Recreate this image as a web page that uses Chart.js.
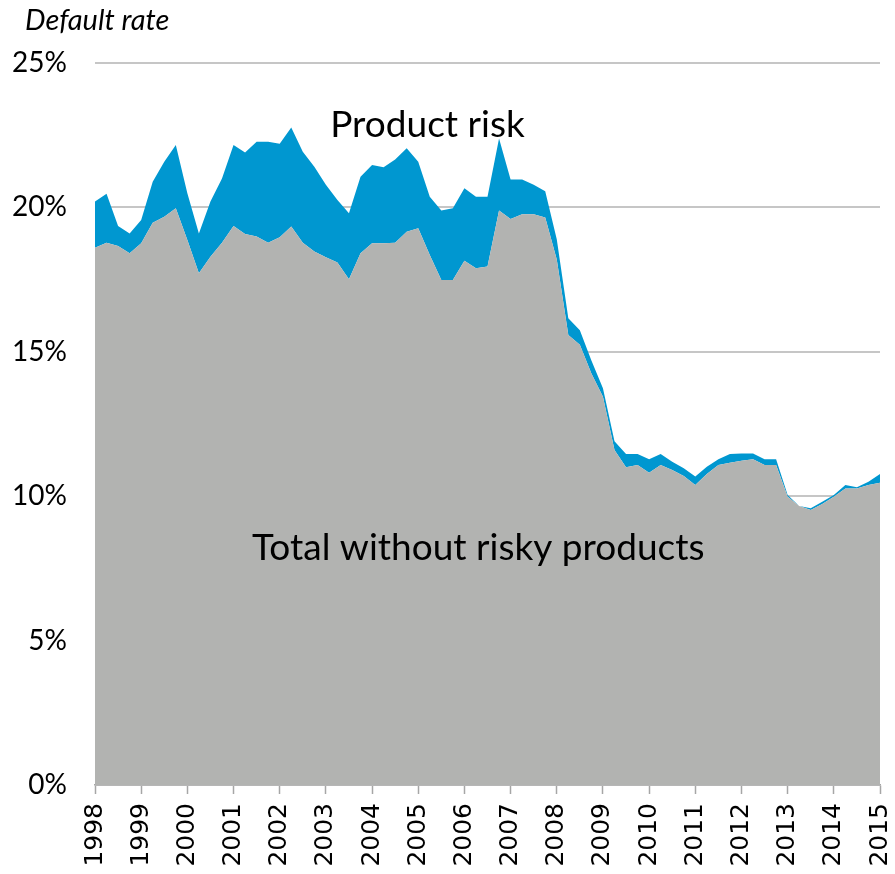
<!DOCTYPE html>
<html>
<head>
<meta charset="utf-8">
<script src="https://cdn.jsdelivr.net/npm/chart.js@4.4.1/dist/chart.umd.min.js"></script>
<style>
  html, body { margin: 0; padding: 0; background: #fff; }
  #wrap { width: 895px; height: 874px; }
</style>
</head>
<body>
<div id="wrap"><canvas id="defaultChart"></canvas></div>
<script>
// quarterly observations, 1998 Q1 .. 2015 Q1
var quarters = [];
for (var y = 1998; y <= 2015; y++) {
  for (var q = 1; q <= 4; q++) {
    if (y === 2015 && q > 1) break;
    quarters.push(y + ' Q' + q);
  }
}

// default rate without the risky products (grey area), %
var withoutRisky = [
  18.6, 18.78, 18.66, 18.41,
  18.76, 19.47, 19.68, 19.97,
  18.87, 17.72, 18.29, 18.78,
  19.36, 19.08, 18.99, 18.78,
  18.97, 19.34, 18.78, 18.47,
  18.27, 18.09, 17.51, 18.41,
  18.76, 18.76, 18.78, 19.16,
  19.28, 18.35, 17.49, 17.49,
  18.15, 17.89, 17.95, 19.89,
  19.6, 19.76, 19.76, 19.65,
  18.2, 15.58, 15.24, 14.25,
  13.44, 11.6, 11.0, 11.08,
  10.81, 11.08, 10.91, 10.7,
  10.39, 10.77, 11.08, 11.16,
  11.23, 11.28, 11.08, 11.08,
  9.98, 9.66, 9.52, 9.73,
  9.98, 10.27, 10.27, 10.39,
  10.47
];

// total default rate incl. product risk (top of blue band), %
var totalRate = [
  20.2, 20.47, 19.36, 19.1,
  19.56, 20.89, 21.58, 22.16,
  20.49, 19.1, 20.2, 21.0,
  22.16, 21.9, 22.27, 22.27,
  22.2, 22.77, 21.93, 21.41,
  20.78, 20.26, 19.8, 21.06,
  21.47, 21.39, 21.66, 22.05,
  21.58, 20.37, 19.89, 19.97,
  20.66, 20.37, 20.37, 22.39,
  20.97, 20.97, 20.78, 20.56,
  18.9, 16.16, 15.75, 14.7,
  13.74, 11.9, 11.46, 11.46,
  11.28, 11.46, 11.19, 10.97,
  10.68, 11.02, 11.28, 11.46,
  11.48, 11.48, 11.28, 11.28,
  10.04, 9.66, 9.58, 9.81,
  10.04, 10.39, 10.31, 10.5,
  10.77
];

var yTicks = [0, 5, 10, 15, 20, 25];

function toPoints(values) {
  return values.map(function (v, i) {
    var parts = quarters[i].split(' Q');
    return { x: +parts[0] + (+parts[1] - 1) / 4, y: v };
  });
}

var labelsPlugin = {
  id: 'labels',
  afterDraw: function (chart) {
    var c = chart.ctx, xs = chart.scales.x, ys = chart.scales.y;
    c.save();
    c.fillStyle = '#000';
    c.textBaseline = 'middle';
    c.textAlign = 'left';
    c.font = 'italic 29px Lato';
    c.fillText('Default rate', 25, 21);
    c.textAlign = 'center';
    c.font = '37px Lato';
    c.fillText('Product risk', xs.getPixelForValue(2005.2), ys.getPixelForValue(22.85));
    c.fillText('Total without risky products', xs.getPixelForValue(2006.3), ys.getPixelForValue(8.2));
    c.restore();
  }
};

var ctx = document.getElementById('defaultChart').getContext('2d');
var chart = new Chart(ctx, {
  type: 'line',
  data: {
    datasets: [{
      label: 'Total without risky products',
      data: toPoints(withoutRisky),
      backgroundColor: '#b2b3b1',
      borderWidth: 0,
      pointRadius: 0,
      fill: 'origin',
      tension: 0
    }, {
      label: 'Product risk',
      data: toPoints(totalRate),
      backgroundColor: '#0097d0',
      borderWidth: 0,
      pointRadius: 0,
      fill: '-1',
      tension: 0
    }]
  },
  options: {
    responsive: true,
    maintainAspectRatio: false,
    animation: false,
    layout: { padding: { top: 63, right: 15, left: 0, bottom: 0 } },
    plugins: {
      legend: { display: false },
      tooltip: { enabled: false }
    },
    scales: {
      x: {
        type: 'linear',
        min: 1998,
        max: 2015,
        afterFit: function (s) {
          s.height = 89;
          s.paddingLeft = 0;
          s.paddingRight = 0;
        },
        ticks: {
          stepSize: 1,
          autoSkip: false,
          maxRotation: 90,
          minRotation: 90,
          padding: 9,
          color: '#000',
          font: { family: 'DejaVu Sans', size: 25 },
          callback: function (v) { return String(v); }
        },
        grid: {
          drawOnChartArea: false,
          drawTicks: true,
          tickLength: 9,
          tickColor: '#a6a6a6',
          tickWidth: 1.5
        },
        border: { display: true, color: '#a6a6a6', width: 1.5 }
      },
      y: {
        min: 0,
        max: 25,
        afterFit: function (s) { s.width = 95; },
        afterBuildTicks: function (s) { s.ticks = yTicks.map(function (v) { return { value: v }; }); },
        ticks: {
          padding: 28,
          color: '#000',
          font: { family: 'Lato', size: 28 },
          callback: function (v) { return v + '%'; }
        },
        grid: { color: '#c6c6c6', lineWidth: 2, drawTicks: false },
        border: { display: false }
      }
    }
  },
  plugins: [labelsPlugin]
});
</script>
</body>
</html>
